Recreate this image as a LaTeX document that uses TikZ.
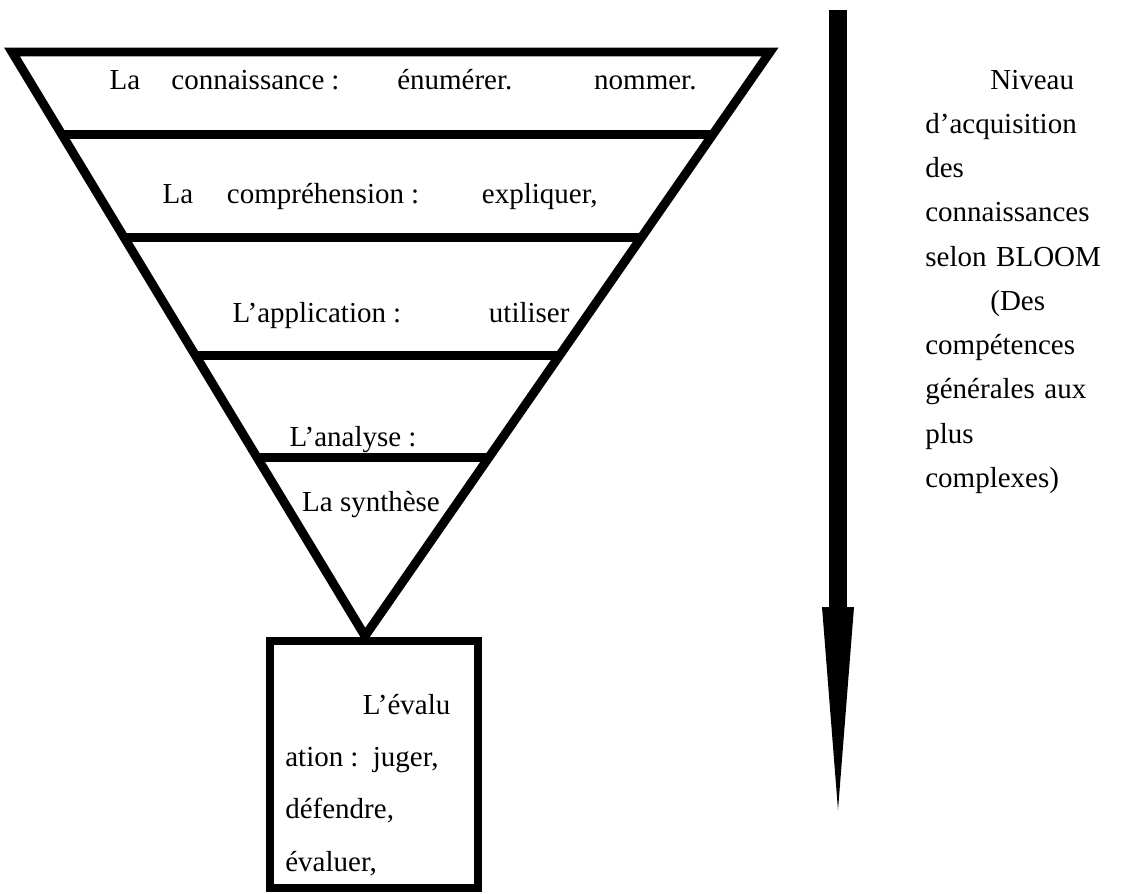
\documentclass[tikz,border=0pt]{standalone}
\usepackage{fontspec}
\setmainfont{Liberation Serif}
\usepackage{tikz}
\usetikzlibrary{calc}
\usetikzlibrary{arrows.meta}
\usetikzlibrary{positioning}
\tikzset{funnel/.style = {line width = 5.1pt, line join = miter}}
\tikzset{level/.style = {inner sep = 0, anchor = base, font = \fontsize{16.5}{25.2}\selectfont}}
\tikzset{para/.style = {inner sep = 0, anchor = base west, align = left}}

\begin{document}
\begin{tikzpicture}[x = 0.02cm, y = -0.02cm]
      \useasboundingbox (0, 0) rectangle (1125, 893);
      \coordinate (tl) at (12, 52);
      \coordinate (tr) at (770, 52);
      \coordinate (apex) at (365, 636);
      \draw[funnel] (apex) -- (tl) -- (tr) -- cycle;
      \foreach \f in {0.141, 0.318, 0.520, 0.695} {
        \draw[funnel] ($(tl)!\f!(apex)$) -- ($(tr)!\f!(apex)$);
      }
      \node[level] (connaissance) at (403, 89) {\makebox[11.74cm][s]{La connaissance\kern4pt: énumérer. nommer.}};
      \node[level] (comprehension) at (380, 203) {\makebox[8.7cm][s]{La compréhension\kern4pt: expliquer,}};
      \node[level] (application) at (401, 322) {\makebox[6.74cm][s]{L’application\kern4pt: utiliser}};
      \node[level] (analyse) at (353, 446) {L’analyse :};
      \node[level] (synthese) at (371, 511) {La synthèse};
      \node[draw, line width = 4.55pt, minimum width = 4.16cm, minimum height = 4.94cm] (evaluation) at (374, 764.5) {};
      \node[para, text width = 3.3cm, font = \fontsize{16.5}{29.8}\selectfont] (evaltext) at (285, 714)
        {\makebox[3.3cm][r]{L’évalu}\\ \makebox[3.3cm][s]{ation\kern4pt: juger,}\\ défendre,\\ évaluer,};
      \coordinate (arrtop) at (838, 10);
      \coordinate (arrtip) at (838, 810);
      \draw[line width = 10.2pt, -{Triangle[length = 4.06cm, width = 0.64cm, line width = 0pt]}] (arrtop) -- (arrtip);
      \node[para, text width = 3.6cm, font = \fontsize{16.5}{25.2}\selectfont] (bloom) at (925, 89)
        {\hspace*{1.3cm}Niveau\\ d’acquisition\\ des\\ connaissances\\ selon BLOOM\\
         \hspace*{1.3cm}(Des\\ compétences\\ \makebox[3.4cm][s]{générales aux}\\ plus\\ complexes)};
    \end{tikzpicture}
\end{document}
